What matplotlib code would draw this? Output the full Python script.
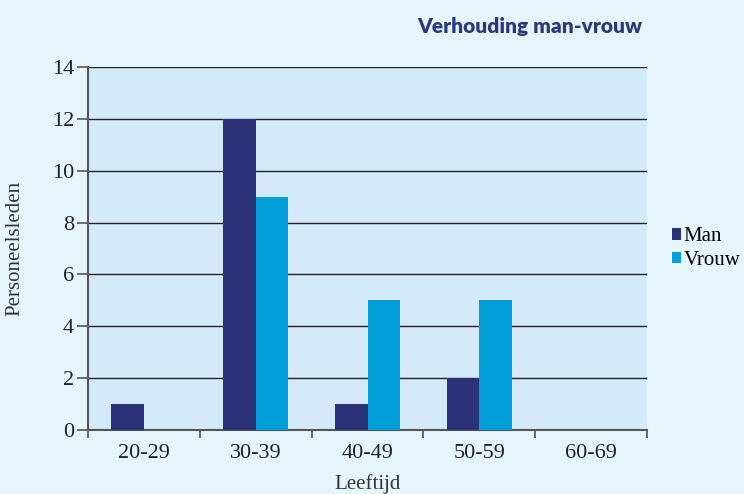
import matplotlib.pyplot as plt
import numpy as np

# leeftijdsgroepen en aantallen
categories = ["20-29", "30-39", "40-49", "50-59", "60-69"]
man = [1, 12, 1, 2, 0]
vrouw = [0, 9, 5, 5, 0]

plt.rcParams["font.family"] = "serif"
plt.rcParams["font.serif"] = ["Liberation Serif", "DejaVu Serif"]

fig = plt.figure(figsize=(7.44, 4.94), dpi=100, facecolor="#e6f4fc")
ax = fig.add_axes([88 / 744, 1 - 430 / 494, 559 / 744, 363 / 494])
ax.set_facecolor("#d4eaf8")

x = np.arange(len(categories))
w = 0.29
ax.bar(x - w / 2, man, w, color="#2b3278", label="Man", zorder=3)
ax.bar(x + w / 2, vrouw, w, color="#009fda", label="Vrouw", zorder=3)

ax.set_xlim(-0.5, len(categories) - 0.5)
ax.set_ylim(0, 14)
ax.set_yticks(range(0, 15, 2))
ax.set_yticklabels([str(v) for v in range(0, 15, 2)],
                   fontfamily="Liberation Serif", fontsize=16, color="#222222")
ax.yaxis.grid(True, color="#222222", linewidth=1.0, zorder=1)
ax.set_axisbelow(True)

ax.set_xticks(x)
ax.set_xticklabels(categories, fontfamily="Liberation Serif", fontsize=16,
                   color="#222222")
ax.set_xticks(np.arange(-0.5, len(categories), 1), minor=True)
ax.tick_params(axis="x", which="major", length=0, pad=10)
ax.tick_params(axis="x", which="minor", length=6, width=1.2, color="#555555")
ax.tick_params(axis="y", length=8, width=1.2, color="#555555", pad=2)

for s in ["top", "right"]:
    ax.spines[s].set_visible(False)
for s in ["left", "bottom"]:
    ax.spines[s].set_color("#555555")
    ax.spines[s].set_linewidth(1.5)

ax.set_xlabel("Leeftijd", fontfamily="Liberation Serif", fontsize=15,
              color="#333333", labelpad=8)
ax.set_ylabel("Personeelsleden", fontfamily="Liberation Serif", fontsize=15,
              color="#333333", labelpad=20)

fig.text(642 / 744, 1 - 26 / 494, "Verhouding man-vrouw", ha="right", va="center",
         fontsize=15, fontweight="heavy", color="#2b3a7a", fontfamily="Lato")

leg = ax.legend(loc="center left", bbox_to_anchor=(1.0, 0.5), frameon=False,
                fontsize=15, handlelength=0.45, handleheight=0.45,
                handletextpad=0.1, labelspacing=0.2, borderaxespad=0.8)
for t in leg.get_texts():
    t.set_fontfamily("Liberation Serif")

fig.savefig("out.png", dpi=100, facecolor=fig.get_facecolor())
